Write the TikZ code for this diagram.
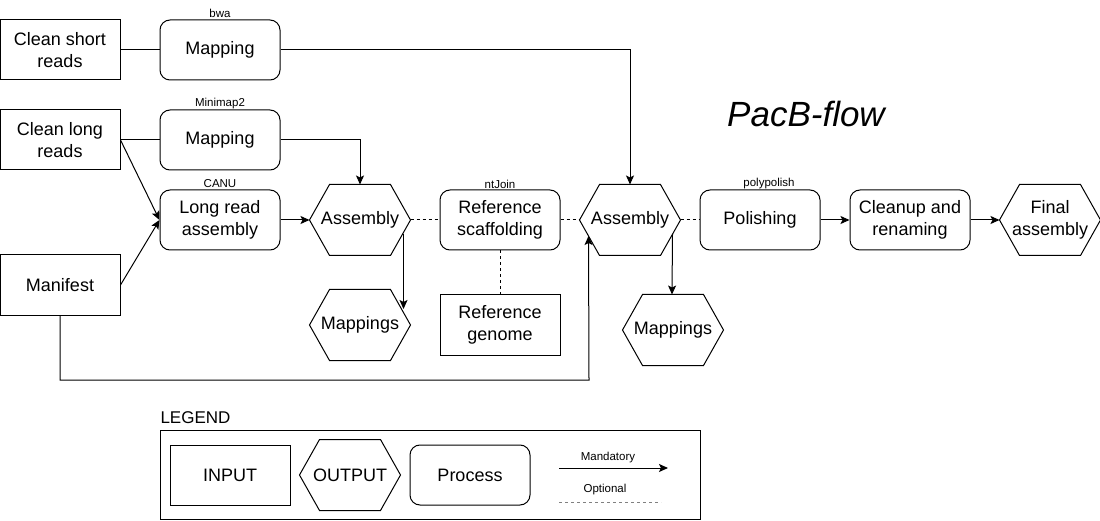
\documentclass[tikz,border=0pt]{standalone}
\usepackage{fontspec}
\setmainfont{Liberation Sans}
\usetikzlibrary{arrows.meta,calc}

\tikzset{
  inbox/.style={draw, minimum width=120pt, minimum height=60pt, inner sep=0pt,
    align=center, font=\fontsize{18}{21.6}\selectfont},
  procbox/.style={inbox, rounded corners=10pt},
  outhex/.style={minimum width=100pt, minimum height=70pt, inner sep=0pt,
    align=center, font=\fontsize{18}{21.6}\selectfont,
    append after command={\pgfextra{\draw (\tikzlastnode.west)
      -- ([xshift=20pt]\tikzlastnode.north west)
      -- ([xshift=-20pt]\tikzlastnode.north east)
      -- (\tikzlastnode.east)
      -- ([xshift=-20pt]\tikzlastnode.south east)
      -- ([xshift=20pt]\tikzlastnode.south west) -- cycle;}}},
  toollabel/.style={inner sep=0pt, font=\fontsize{11.5}{13}\selectfont},
  mandline/.style={-{Stealth[length=9pt,width=8pt,inset=2pt]}},
  optline/.style={dash pattern=on 3pt off 3pt}
}

\begin{document}
\begin{tikzpicture}[x=1pt,y=-1pt,line width=1pt]
  \useasboundingbox (0,0) rectangle (1100,521);

  % inputs
  \node[inbox] (short) at (60,50) {Clean short\\reads};
  \node[inbox] (long) at (60,140) {Clean long\\reads};
  \node[inbox] (man) at (60,285) {Manifest};
  \node[inbox] (refg) at (500,325) {Reference\\genome};

  % processes
  \node[procbox] (mapS) at (220,50) {Mapping};
  \node[procbox] (mapL) at (220,140) {Mapping};
  \node[procbox] (lra) at (220,220) {Long read\\assembly};
  \node[procbox] (scaf) at (500,220) {Reference\\scaffolding};
  \node[procbox] (pol) at (760,220) {Polishing};
  \node[procbox] (clean) at (910,220) {Cleanup and\\renaming};

  % tools
  \node[toollabel] (bwa) at (220,13) {bwa};
  \node[toollabel] (mm2) at (220,104) {Minimap2};
  \node[toollabel] (canu) at (220,184) {CANU};
  \node[toollabel] (ntj) at (500,184) {ntJoin};
  \node[toollabel] (ppol) at (769,184) {polypolish};

  % outputs
  \node[outhex] (asm1) at (360,220) {Assembly};
  \node[outhex] (mapA) at (360,325) {Mappings};
  \node[outhex] (asm2) at (630,220) {Assembly};
  \node[outhex] (mapB) at (673,330) {Mappings};
  \node[outhex] (final) at (1050,220) {Final\\assembly};

  \node[font=\fontsize{35}{40}\selectfont\itshape] (title) at (806,114) {PacB-flow};

  % connectors
  \draw (short) -- (mapS);
  \draw (long) -- (mapL);
  \draw[mandline] (long.east) -- (lra.west);
  \draw[mandline] (man.east) -- (lra.west);
  \draw[mandline] (mapS.east) -| (asm2.north);
  \draw[mandline] (mapL.east) -| (asm1.north);
  \draw[mandline] (lra) -- (asm1);
  \draw[mandline] ($(asm1.east)+(-7,14)$) -- ($(mapA.east)+(-7,-16)$);
  \draw[optline] (asm1.east) -- (scaf.west);
  \draw[optline] (scaf.east) -- (asm2.west);
  \draw[optline] (scaf.south) -- (refg.north);
  \coordinate (bend) at (589,380);
  \draw[mandline] (man.south) |- (bend) -- ($(asm2.west)+(9,16)$);
  \draw[mandline] ($(asm2.east)+(-8,14)$) -- ($(mapB.north)+(-1,0)$);
  \draw[optline] (asm2.east) -- (pol.west);
  \draw[mandline] (pol) -- (clean);
  \draw[mandline] (clean) -- (final);

  % legend
  \node[anchor=west, inner sep=0pt, font=\fontsize{17}{20}\selectfont] (legend) at (160,418) {LEGEND};
  \draw (160,430) rectangle (700,519);
  \node[inbox] (inp) at (230,475) {INPUT};
  \node[outhex] (outp) at (350,475) {OUTPUT};
  \node[procbox] (proc) at (470,475) {Process};
  \coordinate (mandA) at (559,468);
  \coordinate (mandB) at (668,468);
  \coordinate (optA) at (559,502);
  \coordinate (optB) at (661,502);
  \draw[mandline] (mandA) -- (mandB);
  \node[toollabel] (mandtxt) at (608,458) {Mandatory};
  \node[toollabel] (opttxt) at (605,490) {Optional};
  \draw[optline, gray] (optA) -- (optB);
\end{tikzpicture}
\end{document}
